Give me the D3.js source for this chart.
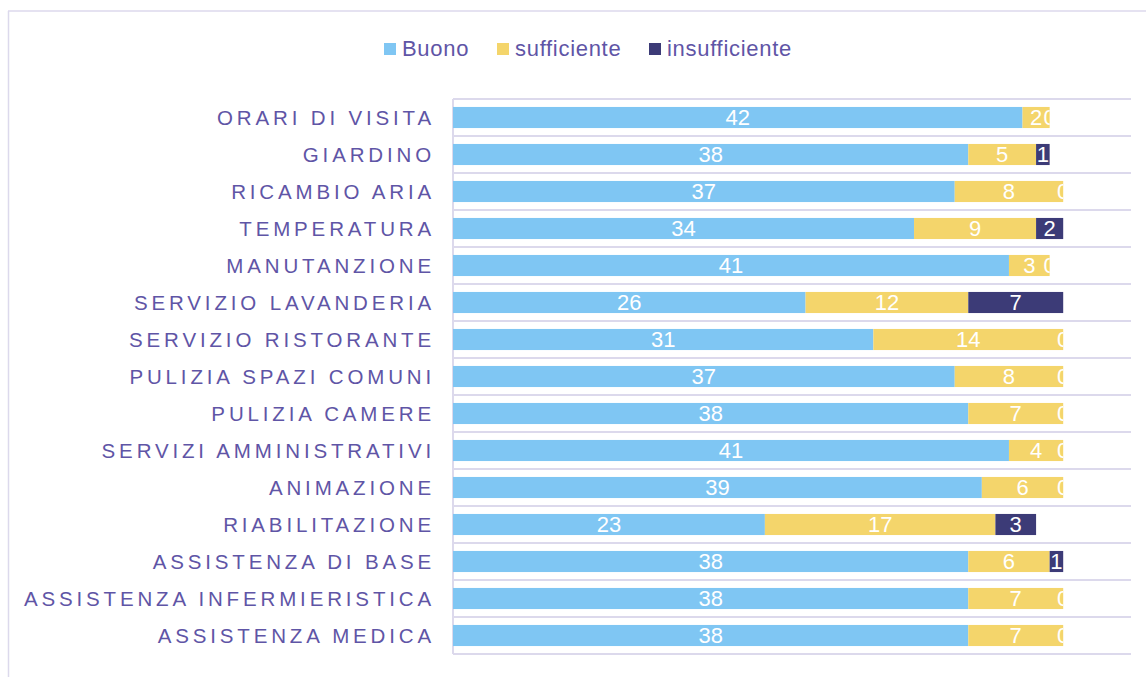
<!DOCTYPE html>
<html>
<head>
<meta charset="utf-8">
<script src="https://cdn.jsdelivr.net/npm/d3@7"></script>
<style>
  html, body { margin: 0; padding: 0; background: #ffffff; }
  svg { display: block; font-family: "Liberation Sans", Arial, sans-serif; }
</style>
</head>
<body>
<svg id="chart" width="1146" height="677"></svg>
<script>
const categories = [
  "ORARI DI VISITA", "GIARDINO", "RICAMBIO ARIA", "TEMPERATURA", "MANUTANZIONE",
  "SERVIZIO LAVANDERIA", "SERVIZIO RISTORANTE", "PULIZIA SPAZI COMUNI", "PULIZIA CAMERE",
  "SERVIZI AMMINISTRATIVI", "ANIMAZIONE", "RIABILITAZIONE", "ASSISTENZA DI BASE",
  "ASSISTENZA INFERMIERISTICA", "ASSISTENZA MEDICA"
];
const buono =         [42, 38, 37, 34, 41, 26, 31, 37, 38, 41, 39, 23, 38, 38, 38];
const sufficiente =   [ 2,  5,  8,  9,  3, 12, 14,  8,  7,  4,  6, 17,  6,  7,  7];
const insufficiente = [ 0,  1,  0,  2,  0,  7,  0,  0,  0,  0,  0,  3,  1,  0,  0];
const seriesNames = ["Buono", "sufficiente", "insufficiente"];
const seriesColors = ["#7fc6f3", "#f4d56b", "#3c3b77"];
const xMax = 50;

const svg = d3.select("#chart");
const textColor = "#5f55a6";
const gridColor = "#dcd9ec";

// outer border
svg.append("line").attr("x1", 8.5).attr("x2", 8.5).attr("y1", 11).attr("y2", 677)
  .attr("stroke", gridColor).attr("stroke-width", 1.5);
svg.append("line").attr("x1", 8).attr("x2", 1146).attr("y1", 11).attr("y2", 11)
  .attr("stroke", gridColor).attr("stroke-width", 1.5);

const x = d3.scaleLinear().domain([0, xMax]).range([453, 1131]);
const y = d3.scaleBand().domain(categories).range([99, 654]).paddingInner(0.43).paddingOuter(0.215);

// gridlines at band boundaries
const gridYs = d3.range(categories.length + 1).map(i => 99 + i * y.step());
svg.append("g").selectAll("line").data(gridYs).join("line")
  .attr("x1", x(0)).attr("x2", x(xMax))
  .attr("y1", d => d).attr("y2", d => d)
  .attr("stroke", gridColor).attr("stroke-width", 2);

// left axis line
svg.append("line").attr("x1", x(0)).attr("x2", x(0)).attr("y1", 99).attr("y2", 654)
  .attr("stroke", gridColor).attr("stroke-width", 2);

// stacked data
const rows = categories.map((c, i) => ({ cat: c, Buono: buono[i], sufficiente: sufficiente[i], insufficiente: insufficiente[i] }));
const stack = d3.stack().keys(seriesNames)(rows);

const defs = svg.append("defs");
rows.forEach((r, i) => {
  const total = r.Buono + r.sufficiente + r.insufficiente;
  defs.append("clipPath").attr("id", "clip" + i).append("rect")
    .attr("x", x(0)).attr("y", y(r.cat) - 5).attr("width", x(total) - x(0)).attr("height", y.bandwidth() + 10);
});

stack.forEach((layer, k) => {
  svg.append("g").selectAll("rect").data(layer).join("rect")
    .attr("x", d => x(d[0]))
    .attr("y", d => y(d.data.cat))
    .attr("width", d => x(d[1]) - x(d[0]))
    .attr("height", y.bandwidth())
    .attr("fill", seriesColors[k]);
});

stack.forEach((layer, k) => {
  svg.append("g").selectAll("text").data(layer).join("text")
    .attr("clip-path", (d, i) => `url(#clip${i})`)
    .attr("x", d => (x(d[0]) + x(d[1])) / 2)
    .attr("y", d => y(d.data.cat) + y.bandwidth() / 2)
    .attr("dy", "0.36em")
    .attr("text-anchor", "middle")
    .attr("fill", "#ffffff")
    .attr("font-size", 22)
    .text(d => d[1] - d[0]);
});

// category labels
svg.append("g").selectAll("text").data(categories).join("text")
  .attr("x", 435)
  .attr("y", d => y(d) + y.bandwidth() / 2)
  .attr("dy", "0.36em")
  .attr("text-anchor", "end")
  .attr("fill", textColor)
  .attr("font-size", 20.5)
  .style("letter-spacing", "3.85px")
  .text(d => d);

// legend
const legendX = [384, 497, 649];
const lg = svg.append("g");
seriesNames.forEach((s, i) => {
  lg.append("rect").attr("x", legendX[i]).attr("y", 43).attr("width", 12).attr("height", 12).attr("fill", seriesColors[i]);
  lg.append("text").attr("x", legendX[i] + 18).attr("y", 55.5)
    .attr("fill", textColor).attr("font-size", 22).style("letter-spacing", "0.7px").text(s);
});
</script>
</body>
</html>
